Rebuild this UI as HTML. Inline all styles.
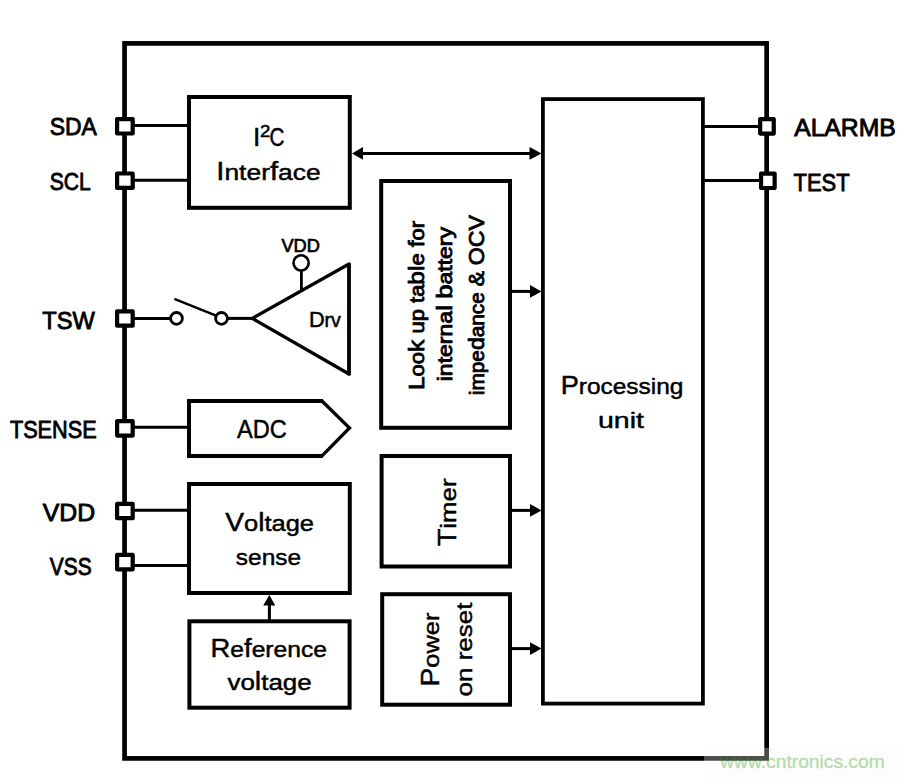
<!DOCTYPE html>
<html><head><meta charset="utf-8"><style>
html,body{margin:0;padding:0;background:#fff;}
svg{display:block;}
text{font-family:"Liberation Sans",sans-serif;fill:#000;stroke:#000;stroke-width:0.45;}
.wm{fill:rgb(50,160,20);stroke:rgb(50,160,20);stroke-width:0.35;font-family:"Liberation Sans",sans-serif;}
</style></head><body>
<svg width="904" height="778" viewBox="0 0 904 778">
<rect x="124.55" y="43.4" width="642.1" height="715" fill="none" stroke="#000" stroke-width="4.7"/>
<line x1="130" y1="125.5" x2="190" y2="125.5" stroke="#000" stroke-width="3"/>
<line x1="130" y1="180.3" x2="190" y2="180.3" stroke="#000" stroke-width="3"/>
<line x1="130" y1="318.4" x2="176" y2="318.4" stroke="#000" stroke-width="3"/>
<line x1="221.5" y1="318.4" x2="253" y2="318.4" stroke="#000" stroke-width="3"/>
<line x1="130" y1="427.3" x2="190" y2="427.3" stroke="#000" stroke-width="3"/>
<line x1="130" y1="510.3" x2="190" y2="510.3" stroke="#000" stroke-width="3"/>
<line x1="130" y1="565.5" x2="190" y2="565.5" stroke="#000" stroke-width="3"/>
<line x1="700" y1="126.4" x2="762" y2="126.4" stroke="#000" stroke-width="3"/>
<line x1="700" y1="180.6" x2="762" y2="180.6" stroke="#000" stroke-width="3"/>
<rect x="189.00" y="97.00" width="160.80" height="110.80" fill="#fff" stroke="#000" stroke-width="4"/>
<rect x="381.20" y="181.00" width="128.80" height="246.80" fill="#fff" stroke="#000" stroke-width="4"/>
<rect x="381.60" y="456.00" width="128.40" height="110.50" fill="#fff" stroke="#000" stroke-width="4"/>
<rect x="382.20" y="594.20" width="127.80" height="110.50" fill="#fff" stroke="#000" stroke-width="4"/>
<rect x="542.90" y="99.10" width="160.00" height="604.50" fill="#fff" stroke="#000" stroke-width="3.8"/>
<rect x="189.00" y="484.00" width="160.80" height="109.00" fill="#fff" stroke="#000" stroke-width="4"/>
<rect x="189.40" y="621.30" width="160.20" height="86.40" fill="#fff" stroke="#000" stroke-width="4"/>
<path d="M189,401 L322.5,401 L349.3,428 L322.5,455.9 L189,455.9 Z" fill="#fff" stroke="none"/>
<path d="M323,401 L189,401 L189,455.9 L323,455.9" fill="none" stroke="#000" stroke-width="4" stroke-linejoin="miter"/>
<path d="M321.5,400.5 L349.5,428 L321.5,456.4" fill="none" stroke="#000" stroke-width="3.3" stroke-linejoin="miter"/>
<rect x="117.10" y="119.10" width="15.6" height="14.4" fill="#fff" stroke="#000" stroke-width="4.2" stroke-linejoin="round"/>
<rect x="117.10" y="173.50" width="15.6" height="14.4" fill="#fff" stroke="#000" stroke-width="4.2" stroke-linejoin="round"/>
<rect x="117.10" y="311.30" width="15.6" height="14.4" fill="#fff" stroke="#000" stroke-width="4.2" stroke-linejoin="round"/>
<rect x="117.10" y="421.20" width="15.6" height="14.4" fill="#fff" stroke="#000" stroke-width="4.2" stroke-linejoin="round"/>
<rect x="117.10" y="503.80" width="15.6" height="14.4" fill="#fff" stroke="#000" stroke-width="4.2" stroke-linejoin="round"/>
<rect x="117.10" y="554.90" width="15.6" height="14.4" fill="#fff" stroke="#000" stroke-width="4.2" stroke-linejoin="round"/>
<rect x="760.15" y="119.2" width="13.6" height="14.4" fill="#fff" stroke="#000" stroke-width="4.2" stroke-linejoin="round"/>
<rect x="761.05" y="173.6" width="13.6" height="14.4" fill="#fff" stroke="#000" stroke-width="4.2" stroke-linejoin="round"/>
<line x1="512" y1="291.4" x2="531.0" y2="291.4" stroke="#000" stroke-width="3"/>
<path d="M541.5,291.4 L530.0,285.09999999999997 L530.0,297.7 Z" fill="#000"/>
<line x1="512" y1="510.4" x2="531.0" y2="510.4" stroke="#000" stroke-width="3"/>
<path d="M541.5,510.4 L530.0,504.09999999999997 L530.0,516.6999999999999 Z" fill="#000"/>
<line x1="512" y1="648.6" x2="531.0" y2="648.6" stroke="#000" stroke-width="3"/>
<path d="M541.5,648.6 L530.0,642.3000000000001 L530.0,654.9 Z" fill="#000"/>
<line x1="362" y1="153.4" x2="531" y2="153.4" stroke="#000" stroke-width="3"/>
<path d="M352,153.4 L363,147 L363,159.8 Z" fill="#000"/>
<path d="M541.5,153.4 L529.5,147 L529.5,159.8 Z" fill="#000"/>
<line x1="269.4" y1="620" x2="269.4" y2="604" stroke="#000" stroke-width="3"/>
<path d="M269.3,595 L263.2,605.5 L275.3,605.5 Z" fill="#000"/>
<circle cx="176.5" cy="318.4" r="5.9" fill="#fff" stroke="#000" stroke-width="2.8"/>
<circle cx="221.5" cy="318.4" r="5.9" fill="#fff" stroke="#000" stroke-width="2.8"/>
<line x1="174.3" y1="298.8" x2="215.5" y2="315.3" stroke="#000" stroke-width="2.5"/>
<path d="M252.3,318.4 L349,264 L349,374 Z" fill="#fff" stroke="none"/>
<path d="M349,264 L252.3,318.4 L349,374" fill="none" stroke="#000" stroke-width="3.3" stroke-linejoin="round" stroke-linecap="round"/>
<line x1="349" y1="263" x2="349" y2="375.3" stroke="#000" stroke-width="3.8"/>
<line x1="301.4" y1="270" x2="301.4" y2="291.5" stroke="#000" stroke-width="2.8"/>
<circle cx="301.1" cy="262.9" r="7.6" fill="#fff" stroke="#000" stroke-width="2.6"/>
<text x="49.66" y="135.40" font-size="24.4" textLength="47.19" lengthAdjust="spacingAndGlyphs" style="stroke-width:0.85"><tspan font-size="24.40">SDA</tspan></text>
<text x="49.74" y="190.10" font-size="24.4" textLength="41.06" lengthAdjust="spacingAndGlyphs" style="stroke-width:0.85"><tspan font-size="24.40">SCL</tspan></text>
<text x="42.27" y="328.50" font-size="24.4" textLength="52.51" lengthAdjust="spacingAndGlyphs" style="stroke-width:0.85"><tspan font-size="24.40">TSW</tspan></text>
<text x="9.91" y="437.70" font-size="24.4" textLength="86.72" lengthAdjust="spacingAndGlyphs" style="stroke-width:0.85"><tspan font-size="24.40">TSENSE</tspan></text>
<text x="42.79" y="520.50" font-size="24.4" textLength="52.40" lengthAdjust="spacingAndGlyphs" style="stroke-width:0.85"><tspan font-size="24.40">VDD</tspan></text>
<text x="49.81" y="575.10" font-size="24.4" textLength="41.85" lengthAdjust="spacingAndGlyphs" style="stroke-width:0.85"><tspan font-size="24.40">VSS</tspan></text>
<text x="794.15" y="135.50" font-size="24.4" textLength="101.65" lengthAdjust="spacingAndGlyphs" style="stroke-width:0.85"><tspan font-size="24.40">ALARMB</tspan></text>
<text x="793.51" y="190.80" font-size="24.4" textLength="56.10" lengthAdjust="spacingAndGlyphs" style="stroke-width:0.85"><tspan font-size="24.40">TEST</tspan></text>
<text x="253.0" y="145.6" font-size="26.3">I</text>
<text x="260.06" y="136.80" font-size="16.5" textLength="10.38" lengthAdjust="spacingAndGlyphs"><tspan font-size="16.50">2</tspan></text>
<text x="269.55" y="145.80" font-size="26.3" textLength="14.94" lengthAdjust="spacingAndGlyphs"><tspan font-size="26.30">C</tspan></text>
<text x="216.29" y="179.60" font-size="25.2" textLength="104.38" lengthAdjust="spacingAndGlyphs"><tspan font-size="25.20">I</tspan><tspan font-size="22.68">nter</tspan><tspan font-size="25.20">f</tspan><tspan font-size="22.68">ace</tspan></text>
<text x="281.42" y="251.70" font-size="17.5" textLength="38.45" lengthAdjust="spacingAndGlyphs" style="stroke-width:0.7"><tspan font-size="17.50">VDD</tspan></text>
<text x="308.92" y="326.80" font-size="21.5" textLength="31.95" lengthAdjust="spacingAndGlyphs" style="stroke-width:0.5"><tspan font-size="21.50">D</tspan><tspan font-size="19.35">rv</tspan></text>
<text x="237.05" y="437.80" font-size="25.2" textLength="49.85" lengthAdjust="spacingAndGlyphs"><tspan font-size="25.20">ADC</tspan></text>
<text x="225.18" y="530.80" font-size="25.2" textLength="88.86" lengthAdjust="spacingAndGlyphs"><tspan font-size="25.20">V</tspan><tspan font-size="22.68">o</tspan><tspan font-size="25.20">l</tspan><tspan font-size="22.68">tage</tspan></text>
<text x="235.82" y="565.00" font-size="25.2" textLength="65.27" lengthAdjust="spacingAndGlyphs"><tspan font-size="22.68">sense</tspan></text>
<text x="210.55" y="656.70" font-size="25.2" textLength="116.44" lengthAdjust="spacingAndGlyphs"><tspan font-size="25.20">R</tspan><tspan font-size="22.68">e</tspan><tspan font-size="25.20">f</tspan><tspan font-size="22.68">erence</tspan></text>
<text x="227.41" y="690.00" font-size="25.2" textLength="84.34" lengthAdjust="spacingAndGlyphs"><tspan font-size="22.68">vo</tspan><tspan font-size="25.20">l</tspan><tspan font-size="22.68">tage</tspan></text>
<text x="560.67" y="394.00" font-size="25.2" textLength="122.81" lengthAdjust="spacingAndGlyphs"><tspan font-size="25.20">P</tspan><tspan font-size="22.68">rocessing</tspan></text>
<text x="597.95" y="428.00" font-size="25.2" textLength="45.96" lengthAdjust="spacingAndGlyphs"><tspan font-size="22.68">unit</tspan></text>
<text transform="translate(423.80,390.01) rotate(-90)" x="0" y="0" font-size="22.5" textLength="169.17" lengthAdjust="spacingAndGlyphs" style="stroke-width:0.85"><tspan font-size="22.50">L</tspan><tspan font-size="20.25">oo</tspan><tspan font-size="22.50">k</tspan><tspan font-size="20.25"> up ta</tspan><tspan font-size="22.50">bl</tspan><tspan font-size="20.25">e </tspan><tspan font-size="22.50">f</tspan><tspan font-size="20.25">or</tspan></text>
<text transform="translate(451.80,381.24) rotate(-90)" x="0" y="0" font-size="22.5" textLength="154.29" lengthAdjust="spacingAndGlyphs" style="stroke-width:0.85"><tspan font-size="20.25">interna</tspan><tspan font-size="22.50">l</tspan><tspan font-size="20.25"> </tspan><tspan font-size="22.50">b</tspan><tspan font-size="20.25">attery</tspan></text>
<text transform="translate(483.70,395.19) rotate(-90)" x="0" y="0" font-size="22.5" textLength="180.09" lengthAdjust="spacingAndGlyphs" style="stroke-width:0.85"><tspan font-size="20.25">impe</tspan><tspan font-size="22.50">d</tspan><tspan font-size="20.25">ance </tspan><tspan font-size="22.50">&amp;</tspan><tspan font-size="20.25"> </tspan><tspan font-size="22.50">OCV</tspan></text>
<text transform="translate(456.00,546.24) rotate(-90)" x="0" y="0" font-size="25.2" textLength="67.77" lengthAdjust="spacingAndGlyphs"><tspan font-size="25.20">T</tspan><tspan font-size="22.68">imer</tspan></text>
<text transform="translate(438.60,686.52) rotate(-90)" x="0" y="0" font-size="25.2" textLength="73.94" lengthAdjust="spacingAndGlyphs"><tspan font-size="25.20">P</tspan><tspan font-size="22.68">ower</tspan></text>
<text transform="translate(471.80,696.59) rotate(-90)" x="0" y="0" font-size="25.2" textLength="94.19" lengthAdjust="spacingAndGlyphs"><tspan font-size="22.68">on reset</tspan></text>
<rect x="704" y="747.8" width="200" height="30.2" fill="#fafafa" fill-opacity="0.3"/>
<g opacity="0.36"><text class="wm" x="720.2" y="768.4" font-size="19.2" textLength="164.5" lengthAdjust="spacingAndGlyphs">www.cntronics.com</text></g>
</svg>
</body></html>
